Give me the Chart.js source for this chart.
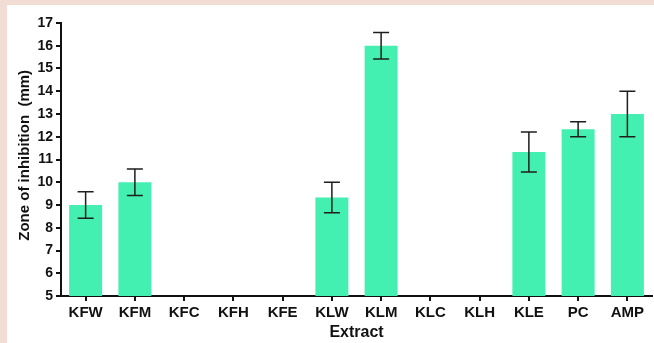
<!DOCTYPE html>
<html lang="en">
<head>
  <meta charset="UTF-8">
  <title>Zone of inhibition by extract</title>
  <script src="https://cdn.jsdelivr.net/npm/chart.js"></script>
  <style>
    body {
      margin: 0;
      padding: 0;
      background-color: #f2ddd4;
      font-family: "Liberation Sans", Arial, sans-serif;
    }

    .panel {
      position: absolute;
      left: 7px;
      top: 5px;
      width: 647px;
      height: 338px;
      background: #fff;
    }
  </style>
</head>
<body>
  <div class="panel">
    <canvas id="zoneChart" width="647" height="338"></canvas>
  </div>

  <script>
    // data (mm), null = no zone
    const extracts = ['KFW', 'KFM', 'KFC', 'KFH', 'KFE', 'KLW', 'KLM', 'KLC', 'KLH', 'KLE', 'PC', 'AMP'];
    const zoneMeans = [9.0, 10.0, null, null, null, 9.33, 16.0, null, null, 11.33, 12.33, 13.0];
    const zoneErrors = [0.58, 0.58, null, null, null, 0.67, 0.58, null, null, 0.88, 0.33, 1.0];
    const yTicks = [5, 6, 7, 8, 9, 10, 11, 12, 13, 14, 15, 16, 17];

    // error bars drawn through the chart scales
    const errorBars = {
      id: 'errorBars',
      afterDatasetsDraw(chart) {
        const ctx = chart.ctx;
        const meta = chart.getDatasetMeta(0);
        const y = chart.scales.y;
        ctx.save();
        ctx.strokeStyle = '#1e1e1e';
        ctx.lineWidth = 1.5;
        meta.data.forEach((bar, i) => {
          if (zoneMeans[i] == null || zoneErrors[i] == null) return;
          const yHi = y.getPixelForValue(zoneMeans[i] + zoneErrors[i]);
          const yLo = y.getPixelForValue(zoneMeans[i] - zoneErrors[i]);
          const x = bar.x;
          const cap = 8;
          ctx.beginPath();
          ctx.moveTo(x, yHi);
          ctx.lineTo(x, yLo);
          ctx.moveTo(x - cap, yHi);
          ctx.lineTo(x + cap, yHi);
          ctx.moveTo(x - cap, yLo);
          ctx.lineTo(x + cap, yLo);
          ctx.stroke();
        });
        ctx.restore();
      }
    };

    const fam = '"Liberation Sans", Arial, sans-serif';

    new Chart(document.getElementById('zoneChart'), {
      type: 'bar',
      data: {
        labels: extracts,
        datasets: [{
          label: 'Zone of inhibition',
          data: zoneMeans,
          backgroundColor: '#44f0b1',
          borderWidth: 0,
          categoryPercentage: 1.0,
          barPercentage: 0.67
        }]
      },
      options: {
        responsive: false,
        animation: false,
        layout: { padding: { top: 18, right: 2, left: 0, bottom: 0 } },
        plugins: {
          legend: { display: false },
          tooltip: { enabled: false }
        },
        scales: {
          x: {
            afterFit(scale) { scale.height = 47; },
            grid: {
              offset: false,
              drawOnChartArea: false,
              drawTicks: true,
              tickLength: 5,
              color: '#111',
              lineWidth: 2
            },
            border: { display: true, color: '#111', width: 2 },
            ticks: { color: '#111', font: { family: fam, size: 15, weight: 'bold' }, padding: 3, maxRotation: 0 },
            title: {
              display: true,
              text: 'Extract',
              color: '#111',
              font: { family: fam, size: 16, weight: 'bold' },
              padding: { top: 0, bottom: 1 }
            }
          },
          y: {
            min: 5,
            max: 17,
            afterFit(scale) { scale.width = 54; },
            afterBuildTicks(scale) { scale.ticks = yTicks.map(v => ({ value: v })); },
            grid: {
              drawOnChartArea: false,
              drawTicks: true,
              tickLength: 5,
              color: '#111',
              lineWidth: 2
            },
            border: { display: true, color: '#111', width: 2 },
            ticks: { color: '#111', font: { family: fam, size: 14, weight: 'bold' }, padding: 3 },
            title: {
              display: true,
              text: '  Zone of inhibition  (mm)',
              color: '#111',
              font: { family: fam, size: 15, weight: 'bold' },
              padding: { top: 9, bottom: 0 }
            }
          }
        }
      },
      plugins: [errorBars]
    });
  </script>
</body>
</html>
